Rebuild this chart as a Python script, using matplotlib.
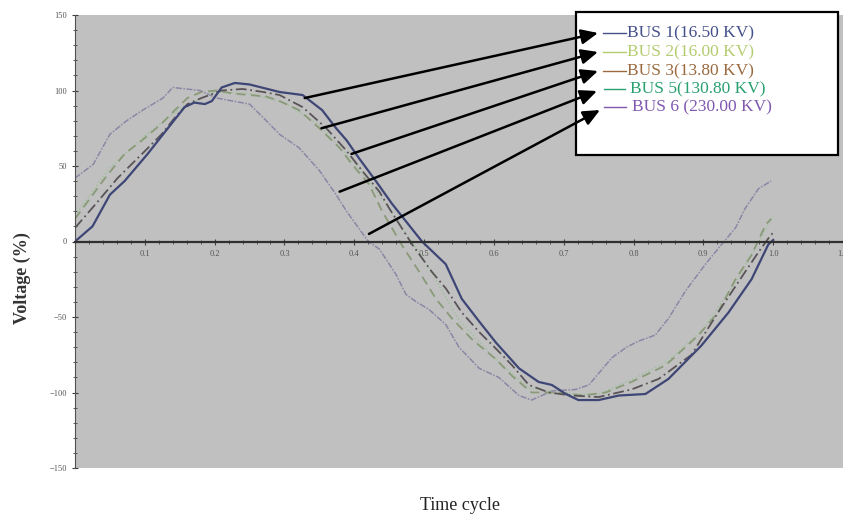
import matplotlib
matplotlib.use("Agg")
import matplotlib.pyplot as plt
from matplotlib.patches import Rectangle
from matplotlib.ticker import MultipleLocator

# values
t_bus1 = [0, 0.025, 0.05, 0.071, 0.104, 0.133, 0.157, 0.171, 0.186, 0.196, 0.21, 0.229, 0.25,
          0.293, 0.326, 0.354, 0.374, 0.389, 0.407, 0.431, 0.454, 0.497, 0.531, 0.554, 0.579,
          0.603, 0.636, 0.664, 0.683, 0.703, 0.721, 0.75, 0.779, 0.817, 0.85, 0.897, 0.936,
          0.969, 0.993, 1.0]
v_bus1 = [0, 10, 31, 40, 58, 75, 89, 92, 91, 93, 102, 105, 104,
          99, 97, 87, 75, 67, 55, 40, 25, 0, -15, -38, -53,
          -67, -84, -93, -95, -101, -105, -105, -102, -101, -91, -69, -47,
          -25, -2, 1]

t_bus2 = [0, 0.043, 0.071, 0.096, 0.124, 0.143, 0.161, 0.181, 0.203, 0.226, 0.25, 0.274, 0.293,
          0.321, 0.35, 0.379, 0.397, 0.421, 0.44, 0.469, 0.493, 0.517, 0.54, 0.569, 0.603,
          0.626, 0.654, 0.693, 0.726, 0.76, 0.797, 0.846, 0.893, 0.921, 0.946, 0.969, 0.989, 0.997]
v_bus2 = [15, 42, 58, 67, 78, 87, 95, 99, 100, 98, 97, 96, 93,
          87, 75, 62, 51, 38, 20, -3, -20, -38, -51, -65, -78,
          -89, -100, -100, -102, -100, -93, -82, -62, -47, -25, -9, 11, 15]

t_bus3 = [0, 0.03, 0.061, 0.096, 0.124, 0.143, 0.161, 0.181, 0.21, 0.24, 0.27, 0.293, 0.326,
          0.36, 0.389, 0.411, 0.436, 0.45, 0.483, 0.511, 0.531, 0.554, 0.579, 0.603, 0.626,
          0.65, 0.679, 0.711, 0.75, 0.797, 0.836, 0.883, 0.921, 0.96, 0.979, 0.993, 1.0]
v_bus3 = [9, 25, 42, 58, 71, 82, 91, 95, 100, 101, 99, 97, 89,
          75, 60, 47, 33, 22, -2, -20, -31, -47, -60, -71, -82,
          -95, -100, -102, -103, -98, -91, -75, -47, -20, -7, 2, 6]

t_bus5 = [0, 0.05, 0.1, 0.15, 0.2, 0.25, 0.3, 0.35, 0.4, 0.45, 0.5, 0.55, 0.6, 0.65, 0.7,
          0.75, 0.8, 0.85, 0.9, 0.95, 1.0]
v_bus5 = [17, 49, 70, 88, 99, 98, 92, 77, 52, 22, -12, -52, -77, -97, -101,
          -101, -91, -79, -58, -24, 17]

t_bus6 = [0, 0.026, 0.05, 0.074, 0.097, 0.126, 0.14, 0.179, 0.203, 0.226, 0.25, 0.274, 0.293,
          0.321, 0.35, 0.374, 0.389, 0.42, 0.436, 0.46, 0.474, 0.489, 0.507, 0.531, 0.55,
          0.579, 0.607, 0.636, 0.654, 0.683, 0.717, 0.736, 0.769, 0.79, 0.807, 0.831, 0.85,
          0.874, 0.903, 0.926, 0.946, 0.96, 0.979, 0.997]
v_bus6 = [42, 51, 71, 80, 87, 95, 102, 100, 95, 93, 91, 80, 71,
          62, 47, 31, 20, 0, -5, -22, -35, -40, -45, -55, -70,
          -84, -90, -102, -105, -99, -98, -95, -77, -70, -66, -62, -51,
          -33, -15, -2, 9, 22, 35, 40]

labels = ['BUS 1(16.50 KV)', 'BUS 2(16.00 KV)', 'BUS 3(13.80 KV)',
          'BUS 5(130.80 KV)', 'BUS 6 (230.00 KV)']
label_colors = ['#44508a', '#b4cc70', '#9a6a40', '#2aa070', '#8058b0']

fig = plt.figure(figsize=(8.43, 5.2), dpi=100)
ax = fig.add_axes([75/843, 52/520, 768/843, 453/520])
ax.set_facecolor('#c0c0c0')

ax.plot(t_bus6, v_bus6, color='#8c86a6', lw=1.1, ls=(0, (4, 1, 1, 1)))
ax.plot(t_bus5, v_bus5, color='#9cc09a', lw=1.0, ls=':')
ax.plot(t_bus2, v_bus2, color='#8a9a78', lw=1.3, ls=(0, (5, 3)))
ax.plot(t_bus3, v_bus3, color='#5a5458', lw=1.3, ls=(0, (6, 2, 1, 2)))
ax.plot(t_bus1, v_bus1, color='#3e4676', lw=1.6)

ax.set_xlim(0, 1.1)
ax.set_ylim(-150, 150)
ax.spines['bottom'].set_position(('data', 0))
ax.spines['bottom'].set_color('#303030')
ax.spines['bottom'].set_linewidth(1.6)
ax.spines['left'].set_color('#505050')
ax.spines['top'].set_visible(False)
ax.spines['right'].set_visible(False)
ax.xaxis.set_major_locator(MultipleLocator(0.1))
ax.xaxis.set_minor_locator(MultipleLocator(0.02))
ax.yaxis.set_major_locator(MultipleLocator(50))
ax.yaxis.set_minor_locator(MultipleLocator(10))
ax.tick_params(axis='both', which='major', direction='inout', length=5, color='#404040',
               labelsize=6, labelcolor='#555555')
ax.tick_params(axis='both', which='minor', direction='inout', length=3, color='#404040')
ax.set_xticks([0.1, 0.2, 0.3, 0.4, 0.5, 0.6, 0.7, 0.8, 0.9, 1.0, 1.1])
ax.set_xticklabels(['0.1', '0.2', '0.3', '0.4', '0.5', '0.6', '0.7', '0.8', '0.9', '1.0', '1.1'],
                   family='Liberation Serif')
for lab in ax.get_yticklabels():
    lab.set_family('Liberation Serif')

fig.text(22/843, 242/520, 'Voltage (%)', rotation=90, va='center', ha='center',
         family='Liberation Serif', fontsize=13, fontweight='bold', color='#333333')
fig.text(460/843, 15/520, 'Time cycle', ha='center', va='center',
         family='Liberation Serif', fontsize=13, color='#222222')

# legend box drawn by hand like the original
ax.add_patch(Rectangle((576/843, 365/520), 262/843, 143/520, transform=fig.transFigure,
                       facecolor='white', edgecolor='black', lw=1.6, zorder=5, clip_on=False))
text_y = [487, 468, 449, 431, 413]
dash_x = [(603, 626), (603, 626), (603, 626), (604, 625), (604, 626)]
text_x = [627, 627, 627, 630, 632]
for lab, col, y, (d0, d1), tx in zip(labels, label_colors, text_y, dash_x, text_x):
    ax.plot([d0/843, d1/843], [y/520, y/520], color=col, lw=1.0, transform=fig.transFigure,
            clip_on=False, zorder=6)
    ax.text(tx/843, y/520, lab, color=col, family='Liberation Serif', fontsize=12.5,
            va='center', ha='left', zorder=6, transform=fig.transFigure, clip_on=False)

# arrows from the curves to the legend entries
tails = [(0.329, 95), (0.353, 75), (0.396, 58), (0.379, 33), (0.421, 5)]
heads = [(598, 487), (598, 468), (598, 449), (597, 429), (600, 410)]
for (tx, ty), (hx, hy) in zip(tails, heads):
    ax.annotate('', xy=(hx, hy), xycoords='figure pixels', xytext=(tx, ty), textcoords='data',
                arrowprops=dict(arrowstyle='-|>,head_length=1.0,head_width=0.45',
                                color='black', lw=1.8, shrinkA=0, shrinkB=0),
                annotation_clip=False, zorder=7)

plt.savefig('out.png', dpi=100)
